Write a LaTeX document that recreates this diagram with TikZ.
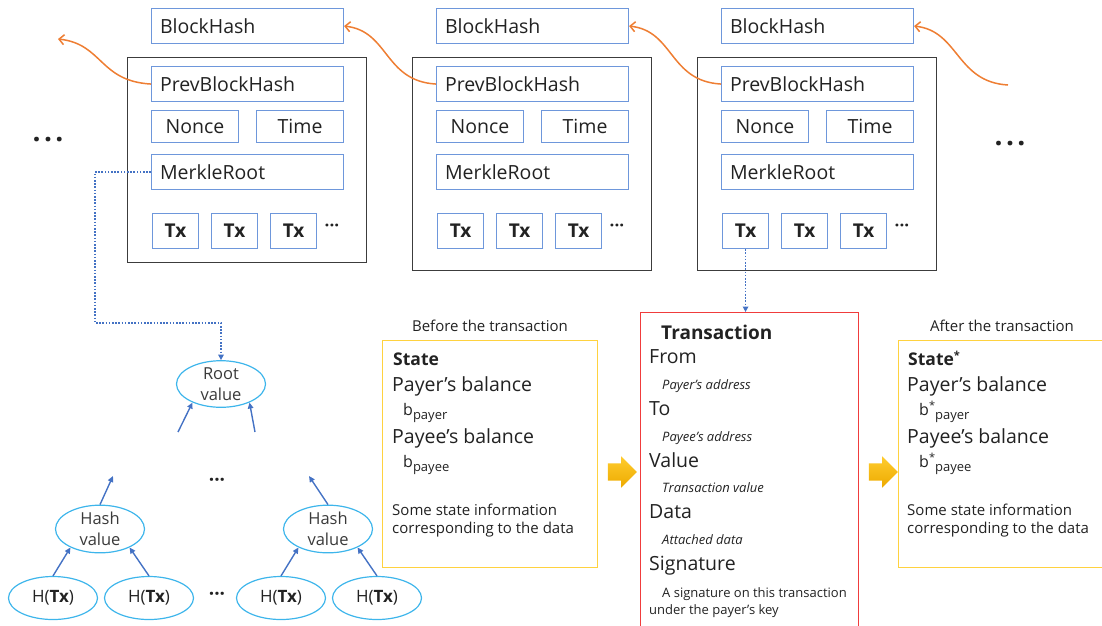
\documentclass[tikz,border=0pt]{standalone}
\usepackage{fontspec}
\setmainfont{Open Sans}
\usetikzlibrary{arrows.meta,shapes.geometric,shapes.arrows}

\definecolor{fieldblue}{HTML}{6E97DB}
\definecolor{framegray}{HTML}{3C3C3C}
\definecolor{linkorange}{HTML}{EE7E33}
\definecolor{treeblue}{HTML}{4472C4}
\definecolor{nodecyan}{HTML}{3DB5EB}
\definecolor{stategold}{HTML}{FFD23F}
\definecolor{txred}{HTML}{F03C3C}
\definecolor{inkgray}{HTML}{222222}
\definecolor{softgray}{HTML}{3A3A3A}
\definecolor{goldtop}{HTML}{FFCC2E}
\definecolor{goldbottom}{HTML}{EDAA00}

\newcommand\fsz[2]{\fontsize{#1}{#2}\selectfont}

\tikzset{
  every node/.append style={text=inkgray},
  blockframe/.style={draw=framegray, line width=1.1pt, anchor=north west, inner sep=0pt, minimum width=239pt},
  field/.style={draw=fieldblue, line width=1.1pt, anchor=north west, inner sep=0pt, font=\fsz{19.5}{22}},
  longfield/.style={field, minimum width=192pt, minimum height=35pt, text width=175pt, inner xsep=8.5pt, align=left},
  shortfield/.style={field, minimum width=87pt, minimum height=32pt},
  txfield/.style={field, minimum width=46pt, minimum height=35pt, font=\fsz{19}{22}\bfseries},
  link/.style={draw=linkorange, line width=1.5pt, -{Straight Barb[length=5pt,width=10pt]}},
  treearrow/.style={draw=treeblue, line width=1.4pt, -{Triangle[length=6pt,width=5.5pt]}},
  dotlink/.style={draw=treeblue, line width=1.6pt, dash pattern=on 1.6pt off 1.6pt, -{Triangle[length=5.5pt,width=5.5pt]}},
  hashnode/.style={ellipse, draw=nodecyan, line width=1.2pt, inner sep=0pt, minimum width=89pt, minimum height=44pt, align=center, font=\fsz{16.5}{21}, text=softgray},
  leafnode/.style={hashnode, minimum height=43pt, font=\fsz{17}{20}, text=inkgray},
  statebox/.style={draw=stategold, line width=1.2pt, anchor=north west, minimum width=215pt, minimum height=227pt, inner sep=0pt},
  txbox/.style={draw=txred, line width=1.1pt, anchor=north west, minimum width=218pt, minimum height=330pt, inner sep=0pt},
  lbl/.style={anchor=base west, inner sep=0pt, font=\fsz{19.5}{22}},
  note/.style={lbl, font=\fsz{15}{18}},
  hint/.style={lbl, font=\fsz{13}{16}\itshape},
  caption/.style={anchor=base, inner sep=0pt, font=\fsz{15}{18}},
  ellipsis/.style={inner sep=0pt, font=\fsz{17}{17}\bfseries},
  bigdots/.style={anchor=base, inner sep=0pt, font=\fsz{28}{28}\bfseries},
  advance/.style={single arrow, minimum height=29pt, minimum width=31pt, inner sep=8.5pt,
    single arrow head extend=7pt, top color=goldtop, bottom color=goldbottom, draw=none},
}

\begin{document}
\begin{tikzpicture}[x=1pt, y=-1pt]
\useasboundingbox (0,0) rectangle (1102,625);

% ---- the chain of blocks ----
\foreach \i/\bx/\bh in {1/127/205, 2/412/213, 3/697/213}{
  \node[blockframe, minimum height=\bh pt] (blk\i) at (\bx,57) {};
  \node[longfield] (bh\i) at (\bx+24,8) {BlockHash};
  \node[longfield] (pb\i) at (\bx+24,66) {PrevBlockHash};
  \node[shortfield] (nc\i) at (\bx+24,110) {Nonce};
  \node[shortfield] (tm\i) at (\bx+129,110) {Time};
  \node[longfield] (mr\i) at (\bx+24,154) {MerkleRoot};
  \node[txfield] (txa\i) at (\bx+25,213) {Tx};
  \node[txfield] (txb\i) at (\bx+84,213) {Tx};
  \node[txfield] (txc\i) at (\bx+143,213) {Tx};
  \node[ellipsis] (more\i) at (\bx+205,228) {···};
}

\node[bigdots] (leftdots) at (48,141) {.\hspace{3.5pt}.\hspace{3.5pt}.};
\node[bigdots] (rightdots) at (1010,145) {.\hspace{3.5pt}.\hspace{3.5pt}.};

% hash links between consecutive blocks
\coordinate (olderblock) at (58,39);
\coordinate (newerblock) at (1008,85);
\draw[link] (pb1.west) .. controls +(-52,-3) and +(45,5) .. (olderblock);
\draw[link] (pb2.west) .. controls +(-52,-3) and +(45,5) .. (bh1.east);
\draw[link] (pb3.west) .. controls +(-52,-3) and +(45,5) .. (bh2.east);
\draw[link] (newerblock) .. controls +(-52,-3) and +(45,5) .. (bh3.east);

% ---- Merkle tree ----
\node[hashnode] (root) at (221,384) {Root\\value};
\node[hashnode] (hl) at (100,529) {Hash\\value};
\node[hashnode] (hr) at (328,529) {Hash\\value};
\node[leafnode] (ht1) at (53,598) {H(\textbf{Tx})};
\node[leafnode] (ht2) at (149,598) {H(\textbf{Tx})};
\node[leafnode] (ht3) at (281,598) {H(\textbf{Tx})};
\node[leafnode] (ht4) at (377,598) {H(\textbf{Tx})};
\node[ellipsis, font=\fsz{19}{19}\bfseries] (middots) at (217,482) {···};
\node[ellipsis, font=\fsz{19}{19}\bfseries] (leafdots) at (217,596) {···};

\coordinate (upl) at (113,476);
\coordinate (upr) at (309,476);
\coordinate (fromleft) at (178,432);
\coordinate (fromright) at (255,432);

\draw[treearrow] (ht1.north) -- (hl.-148);
\draw[treearrow] (ht2.north) -- (hl.-32);
\draw[treearrow] (ht3.north) -- (hr.-148);
\draw[treearrow] (ht4.north) -- (hr.-32);
\draw[treearrow] (hl.north) -- (upl);
\draw[treearrow] (hr.north) -- (upr);
\draw[treearrow] (fromleft) -- (root.-147);
\draw[treearrow] (fromright) -- (root.-33);

\coordinate (bend) at (95,323);
\draw[dotlink] (mr1.west) -| (bend) -| (root.north);

% ---- state before the transaction ----
\node[caption] (precap) at (490,331) {Before the transaction};
\node[statebox] (pre) at (382,340) {};
\node[lbl, font=\fsz{17.5}{20}\bfseries] (pre1) at (393,365) {State};
\node[lbl] (pre2) at (392,391) {Payer’s balance};
\node[lbl, font=\fsz{16}{18}] (pre3) at (403,415) {b\raisebox{-4pt}{\fsz{13}{13}payer}};
\node[lbl] (pre4) at (392,443) {Payee’s balance};
\node[lbl, font=\fsz{16}{18}] (pre5) at (403,467) {b\raisebox{-4pt}{\fsz{13}{13}payee}};
\node[note] (pre6) at (392,515) {Some state information};
\node[note] (pre7) at (392,533) {corresponding to the data};

\node[advance] (adv1) at (618,472) {};

% ---- the transaction ----
\node[txbox] (tx) at (640,312) {};
\draw[dotlink] (txa3.south) -- (txa3.south |- tx.north);
\node[lbl, font=\fsz{19}{22}\bfseries] (t0) at (661,339) {Transaction};
\node[lbl] (t1) at (649,363) {From};
\node[hint] (t2) at (662,389) {Payer’s address};
\node[lbl] (t3) at (649,415) {To};
\node[hint] (t4) at (662,441) {Payee’s address};
\node[lbl] (t5) at (649,467) {Value};
\node[hint] (t6) at (662,492) {Transaction value};
\node[lbl] (t7) at (649,518) {Data};
\node[hint] (t8) at (662,544) {Attached data};
\node[lbl] (t9) at (649,570) {Signature};
\node[lbl, font=\fsz{13}{16}] (t10) at (662,597) {A signature on this transaction};
\node[lbl, font=\fsz{13}{16}] (t11) at (649,614) {under the payer’s key};

\node[advance] (adv2) at (879,472) {};

% ---- state after the transaction ----
\node[caption] (postcap) at (1002,331) {After the transaction};
\node[statebox, minimum width=220pt] (post) at (898,340) {};
\node[lbl, font=\fsz{17.5}{20}\bfseries] (post1) at (908,365) {State\raisebox{6pt}{\fsz{11}{11}*}};
\node[lbl] (post2) at (907,391) {Payer’s balance};
\node[lbl, font=\fsz{16}{18}] (post3) at (919,415) {b\raisebox{6pt}{\fsz{11}{11}*}\raisebox{-4pt}{\fsz{13}{13}payer}};
\node[lbl] (post4) at (907,443) {Payee’s balance};
\node[lbl, font=\fsz{16}{18}] (post5) at (919,467) {b\raisebox{6pt}{\fsz{11}{11}*}\raisebox{-4pt}{\fsz{13}{13}payee}};
\node[note] (post6) at (907,515) {Some state information};
\node[note] (post7) at (907,533) {corresponding to the data};
\end{tikzpicture}
\end{document}
